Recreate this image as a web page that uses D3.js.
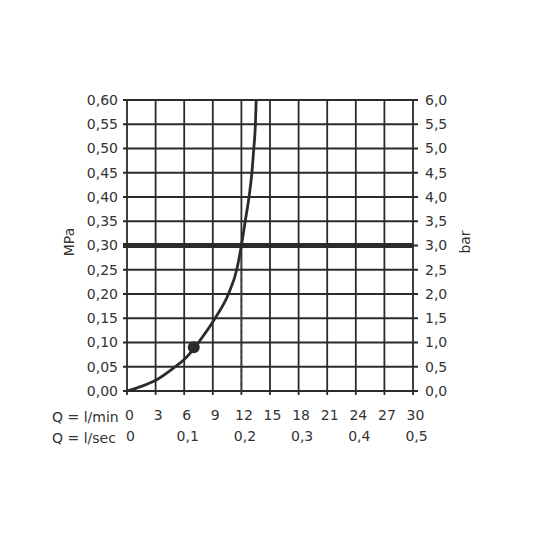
<!DOCTYPE html>
<html>
<head>
<meta charset="utf-8">
<script src="https://cdn.jsdelivr.net/npm/d3@7"></script>
<style>
  body { margin: 0; background: #fff; }
  svg text { font-family: 'DejaVu Sans', sans-serif; fill: #333; }
</style>
</head>
<body>
<svg id="chart" width="536" height="536"></svg>
<script>
// flow in l/min vs pressure in MPa
const flowLmin = [0, 1.57, 3, 5.05, 6, 7, 7.5, 9.24, 10.64, 11.51, 12, 12.4, 12.8, 13.1, 13.3, 13.47, 13.55];
const pressMPa = [0, 0.01, 0.022, 0.05, 0.065, 0.087, 0.10, 0.15, 0.20, 0.25, 0.30, 0.35, 0.40, 0.45, 0.50, 0.55, 0.60];
const markerPoint = {q: 7, p: 0.09};
const refPressure = 0.30;
const refFlow = 12;

const mpaTicks = [0, 0.05, 0.10, 0.15, 0.20, 0.25, 0.30, 0.35, 0.40, 0.45, 0.50, 0.55, 0.60];
const barTicks = [0, 0.5, 1.0, 1.5, 2.0, 2.5, 3.0, 3.5, 4.0, 4.5, 5.0, 5.5, 6.0];
const lminTicks = [0, 3, 6, 9, 12, 15, 18, 21, 24, 27, 30];
const lsecTicks = [0, 0.1, 0.2, 0.3, 0.4, 0.5];

const plotL = 127, plotR = 413, plotT = 100, plotB = 391;
const ink = '#2b2b2b';

const svg = d3.select('#chart');
const x = d3.scaleLinear().domain([0, 30]).range([plotL, plotR]);
const y = d3.scaleLinear().domain([0, 0.6]).range([plotB, plotT]);
const yBar = d3.scaleLinear().domain([0, 6]).range([plotB, plotT]);
const xSec = d3.scaleLinear().domain([0, 0.5]).range([plotL, plotR]);

const comma = (digits) => (d) => d3.format('.' + digits + 'f')(d).replace('.', ',');

// grid
const grid = svg.append('g').attr('stroke', ink).attr('stroke-width', 1.8);
grid.selectAll('.gx').data(lminTicks).join('line')
  .attr('x1', d => x(d)).attr('x2', d => x(d))
  .attr('y1', plotT).attr('y2', plotB + 4);
grid.selectAll('.gy').data(mpaTicks).join('line')
  .attr('x1', plotL - 4).attr('x2', plotR + 5)
  .attr('y1', d => y(d)).attr('y2', d => y(d));

// left axis labels
svg.append('g').attr('transform', `translate(${plotL},0)`)
  .call(d3.axisLeft(y).tickValues(mpaTicks).tickFormat(comma(2)).tickSize(0).tickPadding(9))
  .call(g => g.select('.domain').remove())
  .selectAll('text').attr('font-size', 14).attr('fill', '#333');

// right axis labels
svg.append('g').attr('transform', `translate(${plotR},0)`)
  .call(d3.axisRight(yBar).tickValues(barTicks).tickFormat(comma(1)).tickSize(0).tickPadding(12))
  .call(g => g.select('.domain').remove())
  .selectAll('text').attr('font-size', 14).attr('fill', '#333');

// bottom rows
svg.append('g').attr('transform', `translate(2,${plotB})`)
  .call(d3.axisBottom(x).tickValues(lminTicks).tickFormat(d => d).tickSize(0).tickPadding(19))
  .call(g => g.select('.domain').remove())
  .selectAll('text').attr('font-size', 14).attr('fill', '#333');
svg.append('g').attr('transform', `translate(3,${plotB + 21})`)
  .call(d3.axisBottom(xSec).tickValues(lsecTicks).tickFormat(d => d === 0 ? '0' : comma(1)(d)).tickSize(0).tickPadding(19))
  .call(g => g.select('.domain').remove())
  .selectAll('text').attr('font-size', 14).attr('fill', '#333');

svg.append('text').attr('x', 52).attr('y', 421.5).attr('font-size', 14).text('Q = l/min');
svg.append('text').attr('x', 52).attr('y', 443).attr('font-size', 14).text('Q = l/sec');

// axis titles
svg.append('text').attr('transform', 'translate(74,242) rotate(-90)')
  .attr('text-anchor', 'middle').attr('font-size', 14).text('MPa');
svg.append('text').attr('transform', 'translate(470,242) rotate(-90)')
  .attr('text-anchor', 'middle').attr('font-size', 14).text('bar');

// reference pressure line
svg.append('line')
  .attr('x1', plotL - 4).attr('x2', plotR)
  .attr('y1', y(refPressure)).attr('y2', y(refPressure))
  .attr('stroke', ink).attr('stroke-width', 5);

// dashed drop line at reference flow
svg.append('line')
  .attr('x1', x(refFlow)).attr('x2', x(refFlow))
  .attr('y1', y(refPressure)).attr('y2', y(0))
  .attr('stroke', '#444').attr('stroke-width', 1.6)
  .attr('stroke-dasharray', '4,2.5');

// curve
const pts = flowLmin.map((q, i) => [q, pressMPa[i]]);
svg.append('path').datum(pts)
  .attr('fill', 'none').attr('stroke', ink).attr('stroke-width', 2.8)
  .attr('d', d3.line().x(d => x(d[0])).y(d => y(d[1])).curve(d3.curveMonotoneX));

svg.append('circle')
  .attr('cx', x(markerPoint.q)).attr('cy', y(markerPoint.p)).attr('r', 6)
  .attr('fill', ink);
</script>
</body>
</html>
